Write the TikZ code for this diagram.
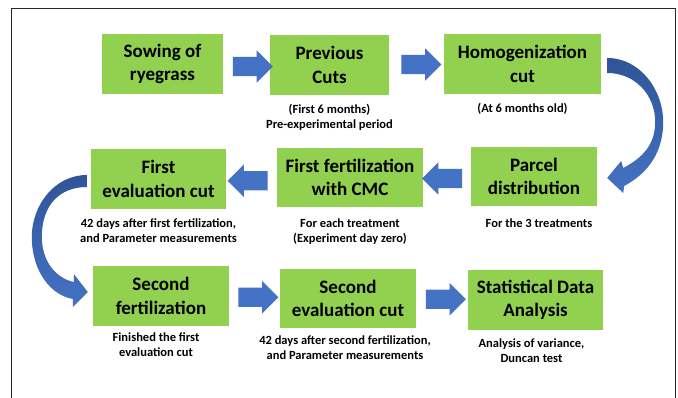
\documentclass[tikz,border=0pt]{standalone}
\usepackage{fontspec}
\setmainfont{Carlito}
\usetikzlibrary{shapes.arrows,calc}
\definecolor{boxgreen}{HTML}{92D050}
\definecolor{arrowblue}{HTML}{4472C4}
\definecolor{arrowdark}{HTML}{2F5597}
\tikzset{
 stepbox/.style={fill=boxgreen, draw=none, inner sep=0pt, align=center,
   font=\fontsize{19}{23.5}\selectfont\bfseries, minimum height=60pt},
 note/.style={inner sep=0pt, align=center, anchor=north,
   font=\fontsize{12.5}{15.5}\selectfont\bfseries},
 blockarrow/.style={single arrow, fill=arrowblue, draw=none, inner sep=0pt,
   text height=9.5pt, text depth=9.5pt, text width=0pt,
   minimum height=40pt, minimum width=32pt, single arrow head extend=6.5pt,
   single arrow tip angle=90},
 leftarrow/.style={blockarrow, shape border rotate=180},
 curvedarrow/.style={top color=arrowdark, bottom color=arrowblue, draw=none},
 frameline/.style={draw=black!85, line width=1pt}
}
\begin{document}
\begin{tikzpicture}[x=1pt,y=-1pt]
\useasboundingbox (0,0) rectangle (678,398);
\fill[white] (0,0) rectangle (678,398);
\draw[frameline] (11,410) -- (11,8.5) -- (675,8.5) -- (675,410);

% boxes
\node[stepbox, minimum width=121pt] (sow) at (162.5,64) {Sowing of\\ryegrass};
\node[stepbox, minimum width=119pt] (prev) at (329.5,65) {Previous\\Cuts};
\node[stepbox, minimum width=157pt] (homog) at (522.5,64) {Homogenization\\cut};
\node[stepbox, minimum width=126pt, minimum height=59pt] (parcel) at (534,176.5) {Parcel\\distribution};
\node[stepbox, minimum width=146pt, minimum height=59pt] (ffert) at (350,177.5) {First fertilization\\with CMC};
\node[stepbox, minimum width=135pt] (feval) at (158.5,179) {First\\evaluation cut};
\node[stepbox, minimum width=136pt] (sfert) at (161,296) {Second\\fertilization};
\node[stepbox, minimum width=136pt, minimum height=59pt] (seval) at (348,298.5) {Second\\evaluation cut};
\node[stepbox, minimum width=135pt] (stat) at (535.5,300) {Statistical Data\\Analysis};

% notes
\node[note] (prevnote) at ($(prev.south)+(0,8.5)$) {(First 6 months)\\Pre-experimental period};
\node[note] (homognote) at ($(homog.south)+(0,8.5)$) {(At 6 months old)};
\node[note] (fevalnote) at ($(feval.south)+(0,9)$) {42 days after first fertilization,\\and Parameter measurements};
\node[note] (ffertnote) at ($(ffert.south)+(0,11)$) {For each treatment\\(Experiment day zero)};
\node[note] (parcelnote) at ($(parcel.south)+(5,12)$) {For the 3 treatments};
\node[note] (sfertnote) at ($(sfert.south)+(-5,6)$) {Finished the first\\evaluation cut};
\node[note] (sevalnote) at ($(seval.south)+(-3,7)$) {42 days after second fertilization,\\and Parameter measurements};
\node[note] (statnote) at ($(stat.south)+(-4,8)$) {Analysis of variance,\\Duncan test};

% straight block arrows
\node[blockarrow] (a1) at ($(sow.east)!0.5!(prev.west)+(1.5,2)$) {};
\node[blockarrow] (a2) at ($(prev.east)!0.5!(homog.west)$) {};
\node[leftarrow] (a3) at ($(parcel.west)!0.5!(ffert.east)+(0,1.5)$) {};
\node[leftarrow] (a4) at ($(ffert.west)!0.5!(feval.east)+(1,2.5)$) {};
\node[blockarrow] (a5) at ($(sfert.east)!0.5!(seval.west)+(-1,0)$) {};
\node[blockarrow] (a6) at ($(seval.east)!0.5!(stat.west)+(-1,0)$) {};

% curved arrow: homogenization -> parcel distribution
\begin{scope}[shift={(homog.east)}]
\path[curvedarrow] (6,-6) .. controls (39,-6) and (62,26) .. (62,58)
  .. controls (62,86) and (49,108) .. (23,122)
  -- (22,129) -- (6,114) -- (20,97) -- (22,104)
  .. controls (41,94) and (54,81) .. (54,58)
  .. controls (54,31) and (34,9) .. (6,9) -- cycle;
\end{scope}

% curved arrow: first evaluation cut -> second fertilization
\begin{scope}[shift={(feval.west)}]
\path[curvedarrow] (-4,-4) .. controls (-36,-4) and (-59,26) .. (-59,58)
  .. controls (-59,91) and (-41,116) .. (-18,120)
  -- (-18,128) -- (-3,113) -- (-17,95) -- (-17,103)
  .. controls (-36,99) and (-49,81) .. (-49,58)
  .. controls (-49,26) and (-31,8) .. (-4,8) -- cycle;
\end{scope}
\end{tikzpicture}
\end{document}
